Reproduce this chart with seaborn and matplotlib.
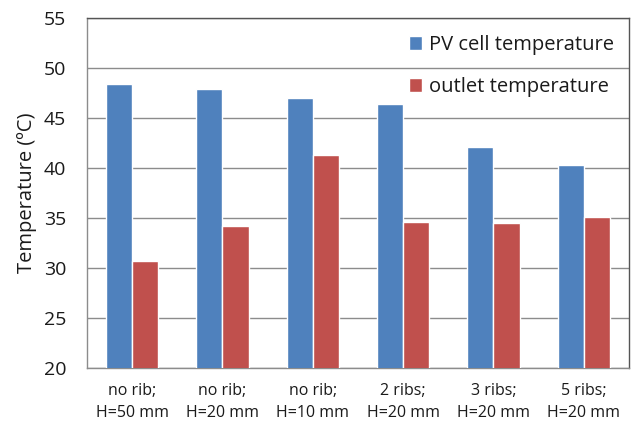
import numpy as np
import pandas as pd
import matplotlib.pyplot as plt
import seaborn as sns

# values
cases = ['no rib;\nH=50 mm', 'no rib;\nH=20 mm', 'no rib;\nH=10 mm',
         '2 ribs;\nH=20 mm', '3 ribs;\nH=20 mm', '5 ribs;\nH=20 mm']
pv_temp = [48.4, 47.9, 47.0, 46.4, 42.1, 40.3]
outlet_temp = [30.7, 34.2, 41.3, 34.6, 34.5, 35.1]
series = ['PV cell temperature', 'outlet temperature']

df = pd.DataFrame({
    'case': cases * 2,
    'temp': pv_temp + outlet_temp,
    'series': [series[0]] * len(cases) + [series[1]] * len(cases),
})

sns.set_style('white')
plt.rcParams['font.family'] = ['Open Sans', 'DejaVu Sans']

fig = plt.figure(figsize=(6.34, 4.28), dpi=100)
ax = fig.add_axes([0.137, 0.14, 0.855, 0.818])

sns.barplot(data=df, x='case', y='temp', hue='series', ax=ax,
            palette=['#4F81BD', '#C0504D'], width=0.58, gap=0,
            saturation=1, errorbar=None, zorder=3)

ax.set_ylim(20, 55)
ax.set_xlim(-0.5, len(cases) - 0.5)
ax.set_yticks(np.arange(20, 56, 5))
ax.yaxis.grid(True, color='#8c8c8c', linewidth=1, zorder=0)
ax.set_axisbelow(True)
ax.tick_params(axis='y', labelsize=14, length=0, pad=15, colors='#1a1a1a')
ax.tick_params(axis='x', labelsize=11.5, length=0, pad=11, colors='#1a1a1a')
ax.set_xticks(np.arange(-0.5, len(cases), 1), minor=True)
ax.tick_params(axis='x', which='minor', length=5, color='#8c8c8c', direction='out')
for lbl in ax.get_xticklabels():
    lbl.set_linespacing(1.45)

ax.set_xlabel('')
ax.set_ylabel('Temperature (ºC)', fontsize=14.5, labelpad=5, color='#1a1a1a')

ax.spines['left'].set_color('#8c8c8c')
ax.spines['bottom'].set_color('#8c8c8c')
ax.spines['top'].set_color('#555555')
ax.spines['right'].set_color('#555555')
for s in ax.spines.values():
    s.set_linewidth(1)

leg = ax.legend(loc='upper right', bbox_to_anchor=(1.006, 1.003), frameon=False,
                fontsize=14.5, handlelength=0.65, handleheight=0.65,
                handletextpad=0.35, labelspacing=1.1)
for t in leg.get_texts():
    t.set_color('#1a1a1a')

fig.savefig('out.png', dpi=100)
